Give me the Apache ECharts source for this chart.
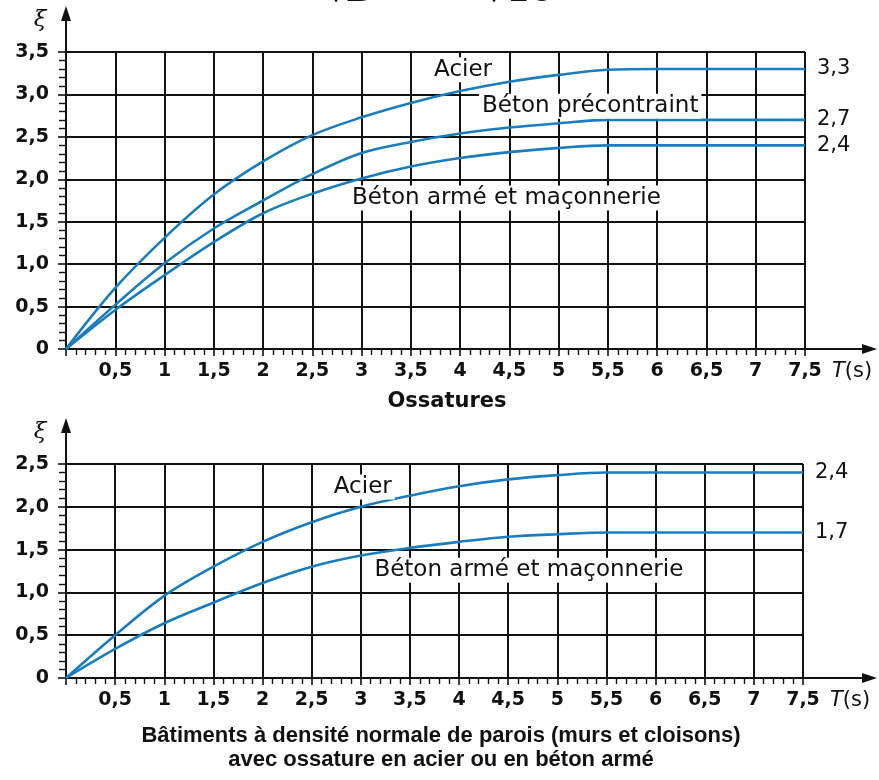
<!DOCTYPE html>
<html>
<head>
<meta charset="utf-8">
<script src="https://cdn.jsdelivr.net/npm/echarts@6/dist/echarts.min.js"></script>
<style>
  html, body { margin: 0; background: #fff; }
  #main { width: 879px; height: 780px; }
</style>
</head>
<body>
<div id="main"></div>
<script>
// périodes T (s)
var periods = [0, 0.5, 1, 1.5, 2, 2.5, 3, 3.5, 4, 4.5, 5, 5.5, 6, 6.5, 7, 7.5];
// Ossatures
var ossAcier        = [0, 0.72, 1.31, 1.82, 2.21, 2.52, 2.73, 2.90, 3.04, 3.15, 3.23, 3.29, 3.3, 3.3, 3.3, 3.3];
var ossPrecontraint = [0, 0.52, 1.01, 1.42, 1.75, 2.06, 2.31, 2.44, 2.54, 2.61, 2.66, 2.7, 2.7, 2.7, 2.7, 2.7];
var ossArme         = [0, 0.46, 0.87, 1.26, 1.60, 1.83, 2.01, 2.15, 2.25, 2.32, 2.37, 2.4, 2.4, 2.4, 2.4, 2.4];
// Bâtiments à densité normale de parois
var batAcier = [0, 0.50, 0.96, 1.30, 1.59, 1.82, 2.00, 2.13, 2.24, 2.32, 2.37, 2.4, 2.4, 2.4, 2.4, 2.4];
var batArme  = [0, 0.34, 0.64, 0.88, 1.11, 1.30, 1.43, 1.52, 1.59, 1.65, 1.68, 1.7, 1.7, 1.7, 1.7, 1.7];
var yMaxTop = 3.5, yMaxBottom = 2.5;

var FONT = 'DejaVu Sans';
var BLUE = '#1a7dbf';
var INK = '#111';

function pairs(ys) {
  return periods.map(function (t, i) { return [t, ys[i]]; });
}
function comma(v) { return String(v).replace('.', ','); }

function xAxisCfg(gi) {
  return {
    type: 'value', gridIndex: gi, min: 0, max: 7.5, interval: 0.5,
    axisLine: { show: true, lineStyle: { color: INK, width: 2 } },
    axisTick: { show: true, length: 7, lineStyle: { color: INK, width: 1.6 } },
    minorTick: { show: true, splitNumber: 5, length: 6, lineStyle: { color: INK, width: 1.4 } },
    splitLine: { show: true, lineStyle: { color: INK, width: 2 } },
    axisLabel: {
      color: INK, fontFamily: FONT, fontWeight: 'bold', fontSize: 19, margin: 13,
      formatter: function (v) { return v === 0 ? '' : comma(v); }
    }
  };
}
function yAxisCfg(gi, max) {
  return {
    type: 'value', gridIndex: gi, min: 0, max: max, interval: 0.5,
    axisLine: { show: true, lineStyle: { color: INK, width: 2 } },
    axisTick: { show: true, length: 8, lineStyle: { color: INK, width: 1.6 } },
    minorTick: { show: true, splitNumber: 5, length: 7, lineStyle: { color: INK, width: 1.4 } },
    splitLine: { show: true, lineStyle: { color: INK, width: 2 } },
    axisLabel: {
      color: INK, fontFamily: FONT, fontWeight: 'bold', fontSize: 19, margin: 17,
      formatter: function (v) { return v === 0 ? '0' : v.toFixed(1).replace('.', ','); }
    }
  };
}
function lineSeries(name, gi, ys) {
  return {
    name: name, type: 'line', xAxisIndex: gi, yAxisIndex: gi,
    data: pairs(ys), smooth: 0.35, symbol: 'none',
    lineStyle: { color: BLUE, width: 2.6 },
    endLabel: {
      show: true, distance: 12, color: INK, fontFamily: FONT, fontSize: 21,
      formatter: function (p) { return comma(p.value[1]); }
    },
    z: 5
  };
}

var chart = echarts.init(document.getElementById('main'));
chart.setOption({
  animation: false,
  backgroundColor: '#fff',
  grid: [
    { left: 66, right: 74, top: 52, height: 297 },
    { left: 66, right: 76, top: 464, height: 214 }
  ],
  xAxis: [xAxisCfg(0), xAxisCfg(1)],
  yAxis: [yAxisCfg(0, yMaxTop), yAxisCfg(1, yMaxBottom)],
  series: [
    lineSeries('Acier', 0, ossAcier),
    lineSeries('Béton précontraint', 0, ossPrecontraint),
    lineSeries('Béton armé et maçonnerie', 0, ossArme),
    lineSeries('Acier', 1, batAcier),
    lineSeries('Béton armé et maçonnerie', 1, batArme)
  ]
});

// décorations : flèches d'axes, étiquettes des courbes, titres
function px(gi, pt) { return chart.convertToPixel({ gridIndex: gi }, pt); }
var g = [];
function arrowUp(x, y0, y1) {
  g.push({ type: 'line', shape: { x1: x, y1: y0, x2: x, y2: y1 + 10 }, style: { stroke: INK, lineWidth: 2 }, z: 10 });
  g.push({ type: 'polygon', shape: { points: [[x, y1], [x - 5, y1 + 15], [x + 5, y1 + 15]] }, style: { fill: INK }, z: 10 });
}
function arrowRight(y, x0, x1) {
  g.push({ type: 'line', shape: { x1: x0, y1: y, x2: x1 - 10, y2: y }, style: { stroke: INK, lineWidth: 2 }, z: 10 });
  g.push({ type: 'polygon', shape: { points: [[x1, y], [x1 - 15, y - 5], [x1 - 15, y + 5]] }, style: { fill: INK }, z: 10 });
}
function curveLabel(gi, pt, txt) {
  var p = px(gi, pt);
  g.push({
    type: 'text', x: p[0], y: p[1], z: 20,
    style: {
      text: txt, fill: INK, font: '23px "DejaVu Sans"', align: 'center', verticalAlign: 'middle',
      backgroundColor: '#fff', padding: [1, 3]
    }
  });
}
function axisTitles(gi, yMax) {
  var o = px(gi, [0, 0]), top = px(gi, [0, yMax]), end = px(gi, [7.5, 0]);
  arrowUp(o[0], top[1], top[1] - 46);
  arrowRight(o[1], end[0], 877);
  g.push({ type: 'text', x: 40, y: top[1] - 32, style: { text: 'ξ', fill: INK, font: 'italic 23px "DejaVu Serif"', align: 'center', verticalAlign: 'middle' } });
  g.push({
    type: 'text', x: end[0] + 27, y: o[1] + 23,
    style: {
      text: '{i|T}(s)', fill: INK, font: '21px "DejaVu Sans"', verticalAlign: 'middle',
      rich: { i: { fontStyle: 'italic', fontSize: 21, fontFamily: FONT, fill: INK } }
    }
  });
}
axisTitles(0, yMaxTop);
axisTitles(1, yMaxBottom);

curveLabel(0, [4.03, 3.29], 'Acier');
curveLabel(0, [5.32, 2.86], 'Béton précontraint');
curveLabel(0, [4.47, 1.78], 'Béton armé et maçonnerie');
curveLabel(1, [3.02, 2.23], 'Acier');
curveLabel(1, [4.71, 1.26], 'Béton armé et maçonnerie');

g.push({ type: 'text', x: 447, y: 402, style: { text: 'Ossatures', fill: INK, font: 'bold 21px "DejaVu Sans"', align: 'center', verticalAlign: 'middle' } });
g.push({
  type: 'text', x: 441, y: 748,
  style: {
    text: 'Bâtiments à densité normale de parois (murs et cloisons)\navec ossature en acier ou en béton armé',
    fill: INK, font: 'bold 22px "Liberation Sans"', align: 'center', verticalAlign: 'middle', lineHeight: 24
  }
});
// haut de formule coupé par le cadrage
g.push({ type: 'text', x: 326, y: 9, style: { text: '√D', fill: INK, font: 'bold italic 34px "DejaVu Serif"', verticalAlign: 'bottom' } });
g.push({ type: 'text', x: 484, y: 9, style: { text: '√10', fill: INK, font: 'bold 34px "DejaVu Serif"', verticalAlign: 'bottom' } });

chart.setOption({ graphic: g });
</script>
</body>
</html>
